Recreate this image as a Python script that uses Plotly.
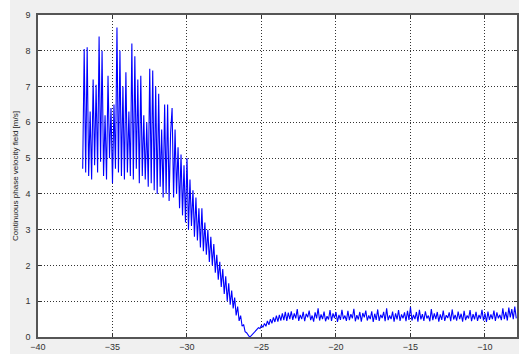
import numpy as np
import plotly.graph_objects as go

# sample grid
x_start = -37.0
x_step = 0.1

# Continuous phase velocity [m/s], one chunk = 1 unit of x
vel = [
    # -37 .. -36.1
    4.7, 8.05, 4.6, 8.1, 4.5, 6.3, 4.4, 7.2, 4.8, 7.05,
    # -36 .. -35.1
    4.6, 8.4, 4.9, 8.0, 4.5, 6.2, 4.4, 7.3, 5.0, 6.4,
    # -35 .. -34.1
    4.3, 6.5, 4.7, 8.65, 4.6, 8.0, 4.5, 7.0, 4.4, 7.4,
    # -34 .. -33.1
    4.6, 6.3, 4.5, 8.2, 4.4, 7.85, 4.7, 7.2, 4.3, 7.3,
    # -33 .. -32.1
    4.5, 6.2, 4.4, 6.0, 4.2, 7.5, 4.3, 7.45, 4.1, 7.0,
    # -32 .. -31.1
    4.0, 6.8, 4.2, 5.8, 3.9, 6.5, 4.0, 6.5, 3.8, 5.7,
    # -31 .. -30.1
    6.4, 3.9, 5.8, 4.0, 5.3, 3.6, 5.1, 3.4, 4.8, 3.2,
    # -30 .. -29.1
    5.0, 3.0, 4.4, 3.1, 4.1, 2.8, 3.9, 2.7, 3.6, 2.5,
    # -29 .. -28.1
    3.6, 2.4, 3.2, 2.3, 3.0, 2.1, 2.8, 2.0, 2.6, 1.8,
    # -28 .. -27.1
    2.3, 1.6, 2.1, 1.4, 1.9, 1.2, 1.7, 1.0, 1.5, 0.9,
    # -27 .. -26.1
    1.3, 0.8, 1.1, 0.6, 0.85, 0.45, 0.6, 0.3, 0.35, 0.15,
    # -26 .. -25.1
    0.12, 0.05, 0.0, 0.03, 0.08, 0.12, 0.17, 0.2, 0.26, 0.24,
    # -25 .. -24.1
    0.33, 0.27, 0.38, 0.3, 0.45, 0.34, 0.5, 0.38, 0.55, 0.42,
    # -24 .. -23.1
    0.6, 0.43, 0.62, 0.46, 0.66, 0.47, 0.7, 0.45, 0.68, 0.5,
    # -23 .. -22.1
    0.72, 0.48, 0.66, 0.52, 0.78, 0.45, 0.62, 0.5, 0.7, 0.44,
    # -22
    0.65, 0.55, 0.74, 0.47, 0.6, 0.43, 0.69, 0.52, 0.8, 0.46,
    # -21
    0.63, 0.5, 0.71, 0.44, 0.58, 0.49, 0.75, 0.45, 0.66, 0.53,
    # -20
    0.7, 0.42, 0.62, 0.48, 0.76, 0.5, 0.6, 0.45, 0.73, 0.47,
    # -19
    0.64, 0.52, 0.79, 0.44, 0.61, 0.49, 0.7, 0.43, 0.67, 0.55,
    # -18
    0.74, 0.46, 0.6, 0.5, 0.72, 0.42, 0.65, 0.48, 0.77, 0.45,
    # -17
    0.62, 0.53, 0.7, 0.44, 0.8, 0.47, 0.6, 0.5, 0.71, 0.43,
    # -16
    0.66, 0.49, 0.75, 0.45, 0.63, 0.52, 0.69, 0.44, 0.73, 0.48,
    # -15
    0.84, 0.46, 0.62, 0.5, 0.7, 0.43, 0.76, 0.49, 0.64, 0.45,
    # -14
    0.72, 0.52, 0.6, 0.44, 0.78, 0.47, 0.66, 0.5, 0.7, 0.43,
    # -13
    0.63, 0.48, 0.74, 0.45, 0.61, 0.53, 0.69, 0.44, 0.77, 0.49,
    # -12
    0.62, 0.46, 0.71, 0.5, 0.65, 0.43, 0.73, 0.47, 0.6, 0.52,
    # -11
    0.75, 0.44, 0.64, 0.49, 0.7, 0.45, 0.62, 0.51, 0.76, 0.46,
    # -10
    0.66, 0.42, 0.71, 0.48, 0.63, 0.5, 0.74, 0.45, 0.69, 0.52,
    # -9
    0.62, 0.47, 0.8, 0.5, 0.7, 0.46, 0.82, 0.55, 0.78, 0.5,
    # -8
    0.85, 0.52,
]
xpos = np.round(x_start + x_step * np.arange(len(vel)), 3)

x_ticks = [-40, -35, -30, -25, -20, -15, -10]
y_ticks = [0, 1, 2, 3, 4, 5, 6, 7, 8, 9]
y_title = "Continuous phase velocity field [m/s]"

W, H = 519, 354
ml, mr, mt, mb = 38, 2, 15, 17
pw, ph = W - ml - mr, H - mt - mb

fig = go.Figure()
fig.add_trace(go.Scatter(x=xpos, y=vel, mode="lines",
                         line=dict(color="#0000ff", width=1.1),
                         hoverinfo="skip", showlegend=False))

font = dict(family="Liberation Sans, Arial, sans-serif", size=9, color="#333333")
grid = dict(showgrid=True, gridcolor="#333333", griddash="1px,2px", gridwidth=1)
fig.update_layout(
    width=W, height=H,
    margin=dict(l=ml, r=mr, t=mt, b=mb, pad=0, autoexpand=False),
    paper_bgcolor="#f0f0f0",
    plot_bgcolor="#ffffff",
    font=font,
    xaxis=dict(range=[-40, -7.85], tickvals=x_ticks, ticks="inside", ticklen=3,
               tickcolor="#333", zeroline=False, showline=True, linecolor="#555555",
               linewidth=1.5, mirror="ticks", tickfont=font, ticklabelstandoff=0,
               automargin=False, **grid),
    yaxis=dict(range=[0, 9], tickvals=y_ticks, ticks="inside", ticklen=3,
               tickcolor="#333", zeroline=False, showline=True, linecolor="#555555",
               linewidth=1.5, mirror="ticks", tickfont=font, ticklabelstandoff=4,
               automargin=False,
               title=dict(text=y_title, font=dict(family="Liberation Sans, Arial, sans-serif",
                                                   size=8, color="#222222"), standoff=6),
               **grid),
)
# white strip at far left of the window
fig.add_shape(type="rect", xref="paper", yref="paper",
              x0=-ml / pw, x1=(10 - ml) / pw, y0=-mb / ph, y1=1 + mt / ph,
              fillcolor="#ffffff", line=dict(width=0), layer="below")

fig.write_html("out.html", config={"displayModeBar": False},
               post_script="document.body.style.margin='0';document.body.style.overflow='hidden';")
